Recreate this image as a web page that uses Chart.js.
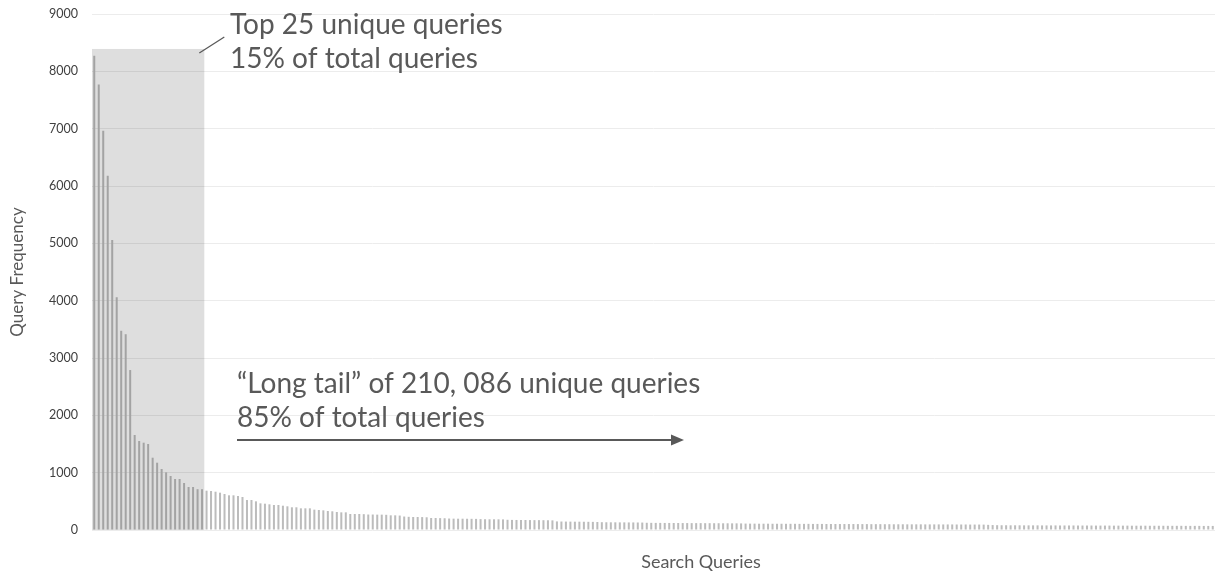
<!DOCTYPE html>
<html>
<head>
<meta charset="utf-8">
<script src="https://cdn.jsdelivr.net/npm/chart.js@4/dist/chart.umd.min.js"></script>
<style>
  html, body { margin: 0; padding: 0; background: #ffffff; }
  #wrap { position: relative; width: 1215px; height: 571px; }
</style>
</head>
<body>
<div id="wrap"><canvas id="c"></canvas></div>
<script>
// ---- Data ----
const frequencies = [
  8270,7770,6965,6180,5060,4060,3475,3415,2790,1657,1552,1523,1500,1261,1174,1064,1006,942,890,890,820,750,750,712,712,
  686,680,668,651,628,605,605,593,576,523,523,500,465,459,448,436,436,424,413,396,396,378,378,378,355,349,343,331,326,314,308,308,279,279,
  279,276,270,270,268,268,265,256,256,252,
  235,230,227,227,225,222,209,209,207,205,
  200,198,197,197,196,195,194,190,188,187,
  187,186,185,178,176,175,174,174,173,172,
  172,171,170,168,150,148,147,146,145,145,
  144,143,142,140,136,135,134,134,133,133,
  132,132,131,130,126,125,124,124,123,123,
  122,122,121,121,120,120,120,119,119,118,
  118,117,117,116,116,115,112,111,111,110,
  110,110,109,109,109,108,108,108,107,107,
  107,106,106,106,105,105,105,104,104,104,
  104,103,103,103,102,102,102,101,101,100,
  100,100,99,99,99,99,98,98,98,98,
  97,97,97,96,96,96,95,95,95,94,
  90,86,84,83,83,82,82,82,81,81,
  81,81,80,80,80,80,79,79,79,79,
  78,78,78,78,77,77,77,77,76,76,
  76,76,75,75,75,75,74,74,74,74,
  73,73,73,73,72,72,72,72,71,71,71
];
const queryRanks = frequencies.map((_, i) => String(i + 1));
const yTicks = [0, 1000, 2000, 3000, 4000, 5000, 6000, 7000, 8000, 9000];
const headCount = 25;            // "Top 25 unique queries"
const headBoxTop = 8390;         // top of the shaded box (value units)
const headLines = ["Top 25 unique queries", "15% of total queries"];
const tailLines = ["\u201CLong tail\u201D of 210, 086 unique queries", "85% of total queries"];
const yTitle = "Query Frequency";
const xTitle = "Search Queries";

const FONT = "Lato, 'Open Sans', sans-serif";
const TEXT = "#595959";

const annotations = {
  id: "annotations",
  afterDatasetsDraw(chart) {
    const { ctx, chartArea, scales } = chart;
    const xs = scales.x, ys = scales.y;
    const half = (xs.getPixelForValue(1) - xs.getPixelForValue(0)) / 2;
    const right = xs.getPixelForValue(headCount - 1) + half;
    const top = ys.getPixelForValue(headBoxTop);
    ctx.save();
    ctx.fillStyle = "rgba(0,0,0,0.13)";
    ctx.fillRect(chartArea.left, top, right - chartArea.left, chartArea.bottom - top);
    ctx.restore();
  },
  afterDraw(chart) {
    const { ctx, scales } = chart;
    const xs = scales.x, ys = scales.y;
    const half = (xs.getPixelForValue(1) - xs.getPixelForValue(0)) / 2;
    const right = xs.getPixelForValue(headCount - 1) + half;
    const top = ys.getPixelForValue(headBoxTop);
    ctx.save();
    // leader line
    ctx.strokeStyle = TEXT;
    ctx.lineWidth = 1.3;
    ctx.beginPath();
    ctx.moveTo(right - 5, top + 4);
    ctx.lineTo(right + 20, top - 12);
    ctx.stroke();
    // head text
    ctx.fillStyle = TEXT;
    ctx.font = "28px " + FONT;
    ctx.textAlign = "left";
    ctx.textBaseline = "alphabetic";
    ctx.fillText(headLines[0], 230, 34);
    ctx.fillText(headLines[1], 230, 68);
    // tail text
    ctx.fillText(tailLines[0], 237, 393);
    ctx.fillText(tailLines[1], 237, 427);
    // arrow
    ctx.lineWidth = 2;
    ctx.beginPath();
    ctx.moveTo(237, 440);
    ctx.lineTo(674, 440);
    ctx.stroke();
    ctx.beginPath();
    ctx.moveTo(684, 440);
    ctx.lineTo(671, 434.5);
    ctx.lineTo(671, 445.5);
    ctx.closePath();
    ctx.fill();
    // x axis title
    ctx.font = "18px " + FONT;
    ctx.textAlign = "center";
    ctx.textBaseline = "middle";
    ctx.fillText(xTitle, 701, 562);
    ctx.restore();
  }
};

new Chart(document.getElementById("c"), {
  type: "bar",
  data: {
    labels: queryRanks,
    datasets: [{
      label: "Query Frequency",
      data: frequencies,
      backgroundColor: "#bcbcbc",
      borderWidth: 0,
      barPercentage: 0.45,
      categoryPercentage: 1.0
    }]
  },
  options: {
    responsive: true,
    maintainAspectRatio: false,
    animation: false,
    devicePixelRatio: 1,
    layout: { padding: { top: 14, right: 0, bottom: 41, left: 0 } },
    plugins: { legend: { display: false }, tooltip: { enabled: false } },
    scales: {
      x: {
        type: "category",
        offset: true,
        grid: { display: false, drawTicks: false },
        border: { display: false },
        ticks: { display: false },
        afterFit(scale) { scale.height = 0; }
      },
      y: {
        min: 0,
        max: 9000,
        afterBuildTicks(scale) { scale.ticks = yTicks.map(v => ({ value: v })); },
        ticks: {
          color: "#404040",
          font: { family: FONT, size: 12.5 },
          padding: 3,
          callback: (v) => String(v)
        },
        grid: { color: "#ececec", drawTicks: true, tickLength: 11, tickColor: "rgba(0,0,0,0)", lineWidth: 1 },
        border: { display: false },
        title: {
          display: true,
          text: yTitle,
          color: TEXT,
          font: { family: FONT, size: 17 },
          padding: { top: 7, bottom: 0 }
        },
        afterFit(scale) { scale.width = 92; }
      }
    }
  },
  plugins: [annotations]
});
</script>
</body>
</html>
